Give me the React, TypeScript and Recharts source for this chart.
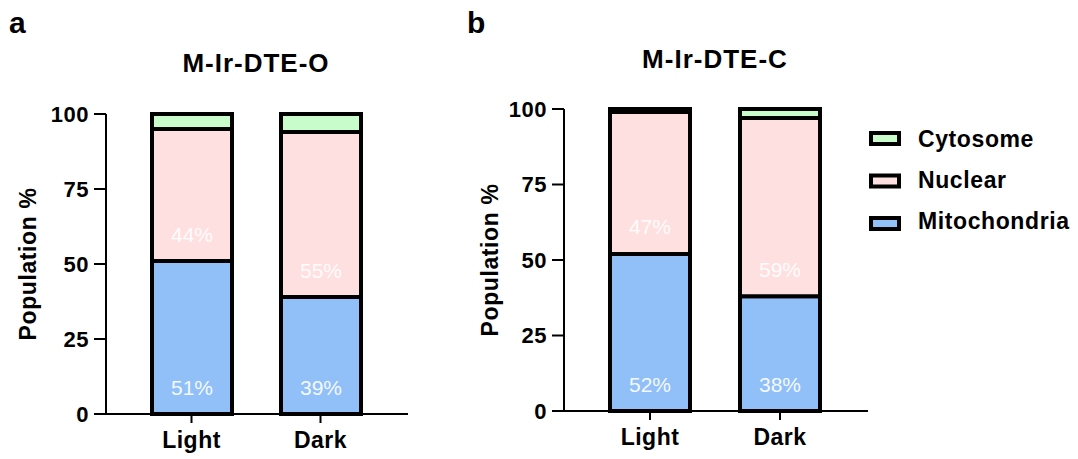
import { Bar, BarChart, LabelList, XAxis, YAxis } from "recharts";

const categories = ["Light", "Dark"];

const mitoO = [51, 39];
const nuclearO = [44, 55];
const cytoO = [5, 6];

const mitoC = [52, 38];
const nuclearC = [47, 59];
const cytoC = [1, 3];

const yTicks = [0, 25, 50, 75, 100];
const legendNames = ["Cytosome", "Nuclear", "Mitochondria"];

const FONT = "'Liberation Sans', Arial, sans-serif";
const BLUE = "#91bff8";
const PINK = "#ffe0e0";
const GREEN = "#c8fcca";
const legendColors = [GREEN, PINK, BLUE];

const dataO = categories.map((cat, i) => ({
  cat,
  mito: mitoO[i],
  nuclear: nuclearO[i],
  cyto: cytoO[i]
}));

const dataC = categories.map((cat, i) => ({
  cat,
  mito: mitoC[i],
  nuclear: nuclearC[i],
  cyto: cytoC[i]
}));

function PctLabel(props: any) {
  const { x, y, width, height, value } = props;
  return (
    <text
      x={x + width / 2}
      y={y + height - 27}
      textAnchor="middle"
      dominantBaseline="central"
      fill="#ffffff"
      fillOpacity={0.92}
      fontFamily={FONT}
      fontSize={21}
    >
      {value}%
    </text>
  );
}

function YTitle({ viewBox, cx }: any) {
  const cy = viewBox.y + viewBox.height / 2;
  return (
    <text
      x={cx}
      y={cy}
      transform={`rotate(-90 ${cx} ${cy})`}
      textAnchor="middle"
      dominantBaseline="central"
      fill="#000"
      fontFamily={FONT}
      fontWeight="bold"
      fontSize={23}
      letterSpacing={0.6}
    >
      Population %
    </text>
  );
}

function Panel({
  data,
  width,
  margin,
  labelX
}: {
  data: any[];
  width: number;
  margin: { top: number; right: number; bottom: number; left: number };
  labelX: number;
}) {
  const tick = { fill: "#000", fontFamily: FONT, fontWeight: "bold", fontSize: 22, letterSpacing: 0.5 };
  return (
    <BarChart width={width} height={459} data={data} margin={margin}>
      <XAxis
        dataKey="cat"
        height={30}
        padding={{ left: 21, right: 23 }}
        tickSize={9}
        tickMargin={9}
        stroke="#000"
        strokeWidth={2}
        tick={{ ...tick, fontSize: 23 }}
      />
      <YAxis
        width={80}
        domain={[0, 100]}
        ticks={yTicks}
        tickSize={12}
        tickMargin={5}
        stroke="#000"
        strokeWidth={2}
        tick={tick}
        label={<YTitle cx={labelX} />}
      />
      <Bar dataKey="mito" stackId="s" fill={BLUE} stroke="#000" strokeWidth={4} barSize={80} isAnimationActive={false}>
        <LabelList dataKey="mito" content={<PctLabel />} />
      </Bar>
      <Bar dataKey="nuclear" stackId="s" fill={PINK} stroke="#000" strokeWidth={4} barSize={80} isAnimationActive={false}>
        <LabelList dataKey="nuclear" content={<PctLabel />} />
      </Bar>
      <Bar dataKey="cyto" stackId="s" fill={GREEN} stroke="#000" strokeWidth={4} barSize={80} isAnimationActive={false} />
    </BarChart>
  );
}

export default function App() {
  return (
    <div style={{ position: "absolute", left: 0, top: 0, width: 1078, height: 459, background: "#fff" }}>
      <div style={{ position: "absolute", left: 0, top: 0 }}>
        <Panel data={dataO} width={430} margin={{ top: 114, right: 22, bottom: 15, left: 26 }} labelX={28} />
      </div>
      <div style={{ position: "absolute", left: 460, top: 0 }}>
        <Panel data={dataC} width={618} margin={{ top: 109, right: 210, bottom: 18, left: 24 }} labelX={30} />
      </div>
      <svg width={1078} height={459} style={{ position: "absolute", left: 0, top: 0, pointerEvents: "none" }}>
        <g fontFamily={FONT} fontWeight="bold" fill="#000">
          <text x={9} y={33} fontSize={30}>a</text>
          <text x={467} y={33} fontSize={30}>b</text>
          <text x={256} y={72} fontSize={26} letterSpacing={1} textAnchor="middle">M-Ir-DTE-O</text>
          <text x={715} y={68} fontSize={26} letterSpacing={1} textAnchor="middle">M-Ir-DTE-C</text>
          {legendNames.map((name, i) => (
            <g key={name}>
              <rect x={871} y={133 + i * 42.5} width={28} height={11} fill={legendColors[i]} stroke="#000" strokeWidth={4} />
              <text x={918} y={147 + i * 41} fontSize={23} letterSpacing={0.6}>{name}</text>
            </g>
          ))}
        </g>
      </svg>
    </div>
  );
}
